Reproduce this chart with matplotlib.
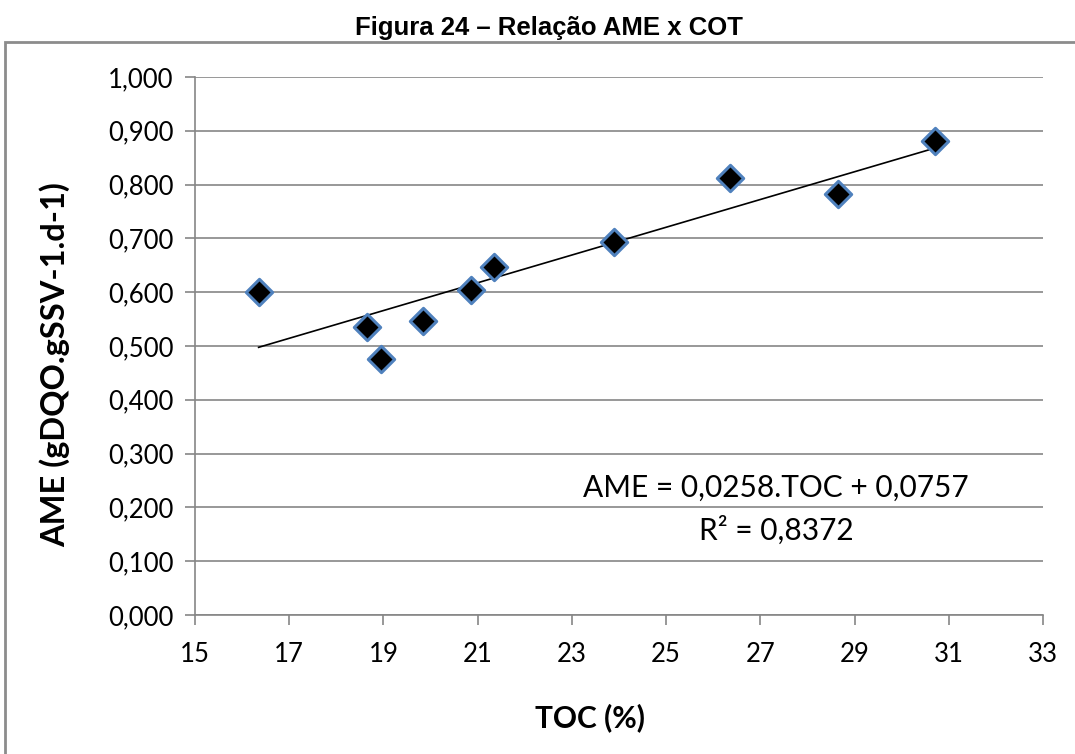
import matplotlib
matplotlib.use("Agg")
import matplotlib.pyplot as plt
from matplotlib.patches import Rectangle
from matplotlib.ticker import FuncFormatter
import numpy as np

toc = [16.35, 18.65, 18.95, 19.85, 20.85, 21.35, 23.9, 26.35, 28.65, 30.7]
ame = [0.600, 0.536, 0.476, 0.547, 0.605, 0.647, 0.694, 0.812, 0.782, 0.881]
slope, intercept = 0.0258, 0.0757
xticks = list(range(15, 34, 2))
yticks = [i / 10 for i in range(0, 11)]

FONT = ["Lato", "DejaVu Sans"]
plt.rcParams["font.family"] = FONT

fig = plt.figure(figsize=(10.75, 7.54), dpi=100)
ax = fig.add_axes([195/1075, 1-615/754, (1043-195)/1075, (615-77)/754])

# outer chart frame
fig.patches.append(Rectangle((5/1075, -0.05), 1.1, 0.05 + (754-42)/754,
                             transform=fig.transFigure, fill=False,
                             edgecolor="#8c8c8c", linewidth=2.0))

fig.text(549/1075, 1-28/754, "Figura 24 – Relação AME x COT", ha="center", va="center",
         fontsize=18.5, fontweight="bold", family=["Liberation Sans", "DejaVu Sans"])

ax.set_xlim(15, 33)
ax.set_ylim(0, 1.0)
ax.set_xticks(xticks)
ax.set_yticks(yticks)
ax.yaxis.set_major_formatter(FuncFormatter(lambda v, p: f"{v:.3f}".replace(".", ",")))
ax.grid(axis="y", color="#868686", linewidth=1.2)
ax.set_axisbelow(True)
for s in ["top", "right"]:
    ax.spines[s].set_visible(False)
for s in ["left", "bottom"]:
    ax.spines[s].set_color("#868686")
    ax.spines[s].set_linewidth(1.2)
ax.tick_params(axis="both", direction="out", length=7.5, width=1.2, color="#868686",
               labelsize=18.5)
ax.tick_params(axis="x", pad=12)
ax.tick_params(axis="y", pad=8)

xs = np.array([min(toc), max(toc)])
ax.plot(xs, slope * xs + intercept, color="black", linewidth=1.2, zorder=2)
ax.scatter(toc, ame, marker="D", s=180, facecolor="black", edgecolor="#4f81bd",
           linewidth=2.2, zorder=3)

ax.text(27.33, 0.236, "AME = 0,0258.TOC + 0,0757", ha="center", va="center", fontsize=21.5)
ax.text(27.33, 0.158, "R² = 0,8372", ha="center", va="center", fontsize=21.5)

fig.text(590/1075, 1-718/754, "TOC (%)", ha="center", va="center", fontsize=21.5, fontweight="bold")
fig.text(55/1075, 1-365/754, "AME (gDQO.gSSV-1.d-1)", ha="center", va="center",
         fontsize=23.5, fontweight="bold", rotation=90)

fig.savefig("out.png", dpi=100)
